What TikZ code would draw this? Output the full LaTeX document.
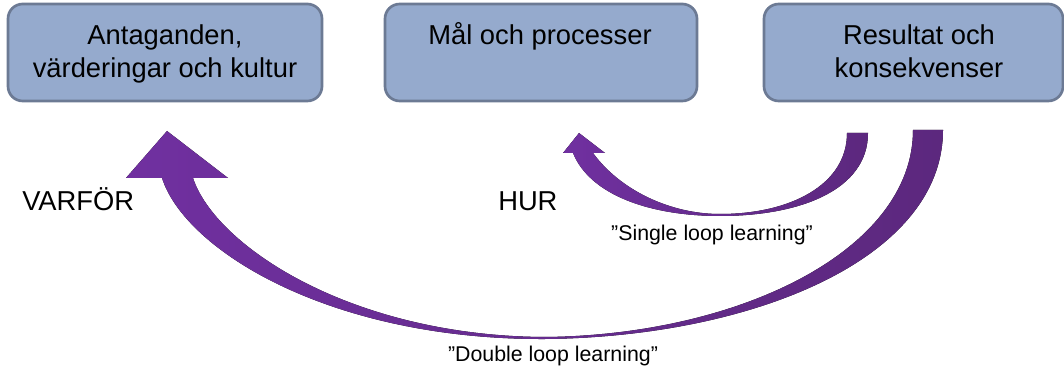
\documentclass[tikz,border=0pt]{standalone}
\usepackage{fontspec}
\setmainfont{Liberation Sans}
\usetikzlibrary{positioning}
\definecolor{boxfill}{RGB}{149,170,205}
\definecolor{boxline}{RGB}{108,122,148}
\definecolor{loopleft}{RGB}{112,48,160}
\definecolor{loopright}{RGB}{92,40,126}

\begin{document}
\begin{tikzpicture}[
        x=0.75pt,y=-0.75pt,
        box/.style={draw=boxline, fill=boxfill, line width=2pt, rounded corners=11pt, minimum height=72.75pt, inner sep=0pt},
        boxtext/.style={align=center, anchor=base, inner sep=0pt, font=\fontsize{20.5}{24.75}\selectfont},
        sidetext/.style={anchor=base west, inner sep=0pt, font=\fontsize{20.5}{24.75}\selectfont},
        looptext/.style={anchor=base, inner sep=0pt, font=\fontsize{16}{19}\selectfont},
        loop/.style={left color=loopleft, right color=loopright, draw=none},
        ]
        \useasboundingbox (0,0) rectangle (1064,367);

        \node[box, minimum width=235.5pt] (antag)  at (165,52.5)   {};
        \node[box, minimum width=234pt]   (mal)    at (541,52.5)   {};
        \node[box, minimum width=224.25pt] (result) at (913.5,52.5) {};

        \node[boxtext] (antagtext)  at (165,78) {Antaganden,\\värderingar och kultur};
        \node[boxtext] (maltext)    at (540,45) {Mål och processer};
        \node[boxtext] (resulttext) at (919,78) {Resultat och\\konsekvenser};

        \fill[loop] (943,130) .. controls (943,260) and (750,337) .. (545,339)
              .. controls (330,340) and (185,250) .. (162,178) -- (126,178) -- (167,131) -- (228,178) -- (193,178)
              .. controls (215,245) and (350,336) .. (545,337)
              .. controls (740,335) and (913,250) .. (913,130) -- cycle;
        \fill[loop] (868,133) .. controls (868,190) and (800,216) .. (720,216)
              .. controls (650,216) and (590,195) .. (573,153) -- (563,153) -- (579,133) -- (605,153) -- (593,153)
              .. controls (620,190) and (670,214) .. (720,214)
              .. controls (790,214) and (847,185) .. (847,133) -- cycle;

        \node[sidetext] (varfor) at (22,211)  {VARFÖR};
        \node[sidetext] (hur)    at (498,211) {HUR};
        \node[looptext] (single) at (712,240) {”Single loop learning”};
        \node[looptext] (double) at (553,361) {”Double loop learning”};
\end{tikzpicture}
\end{document}
